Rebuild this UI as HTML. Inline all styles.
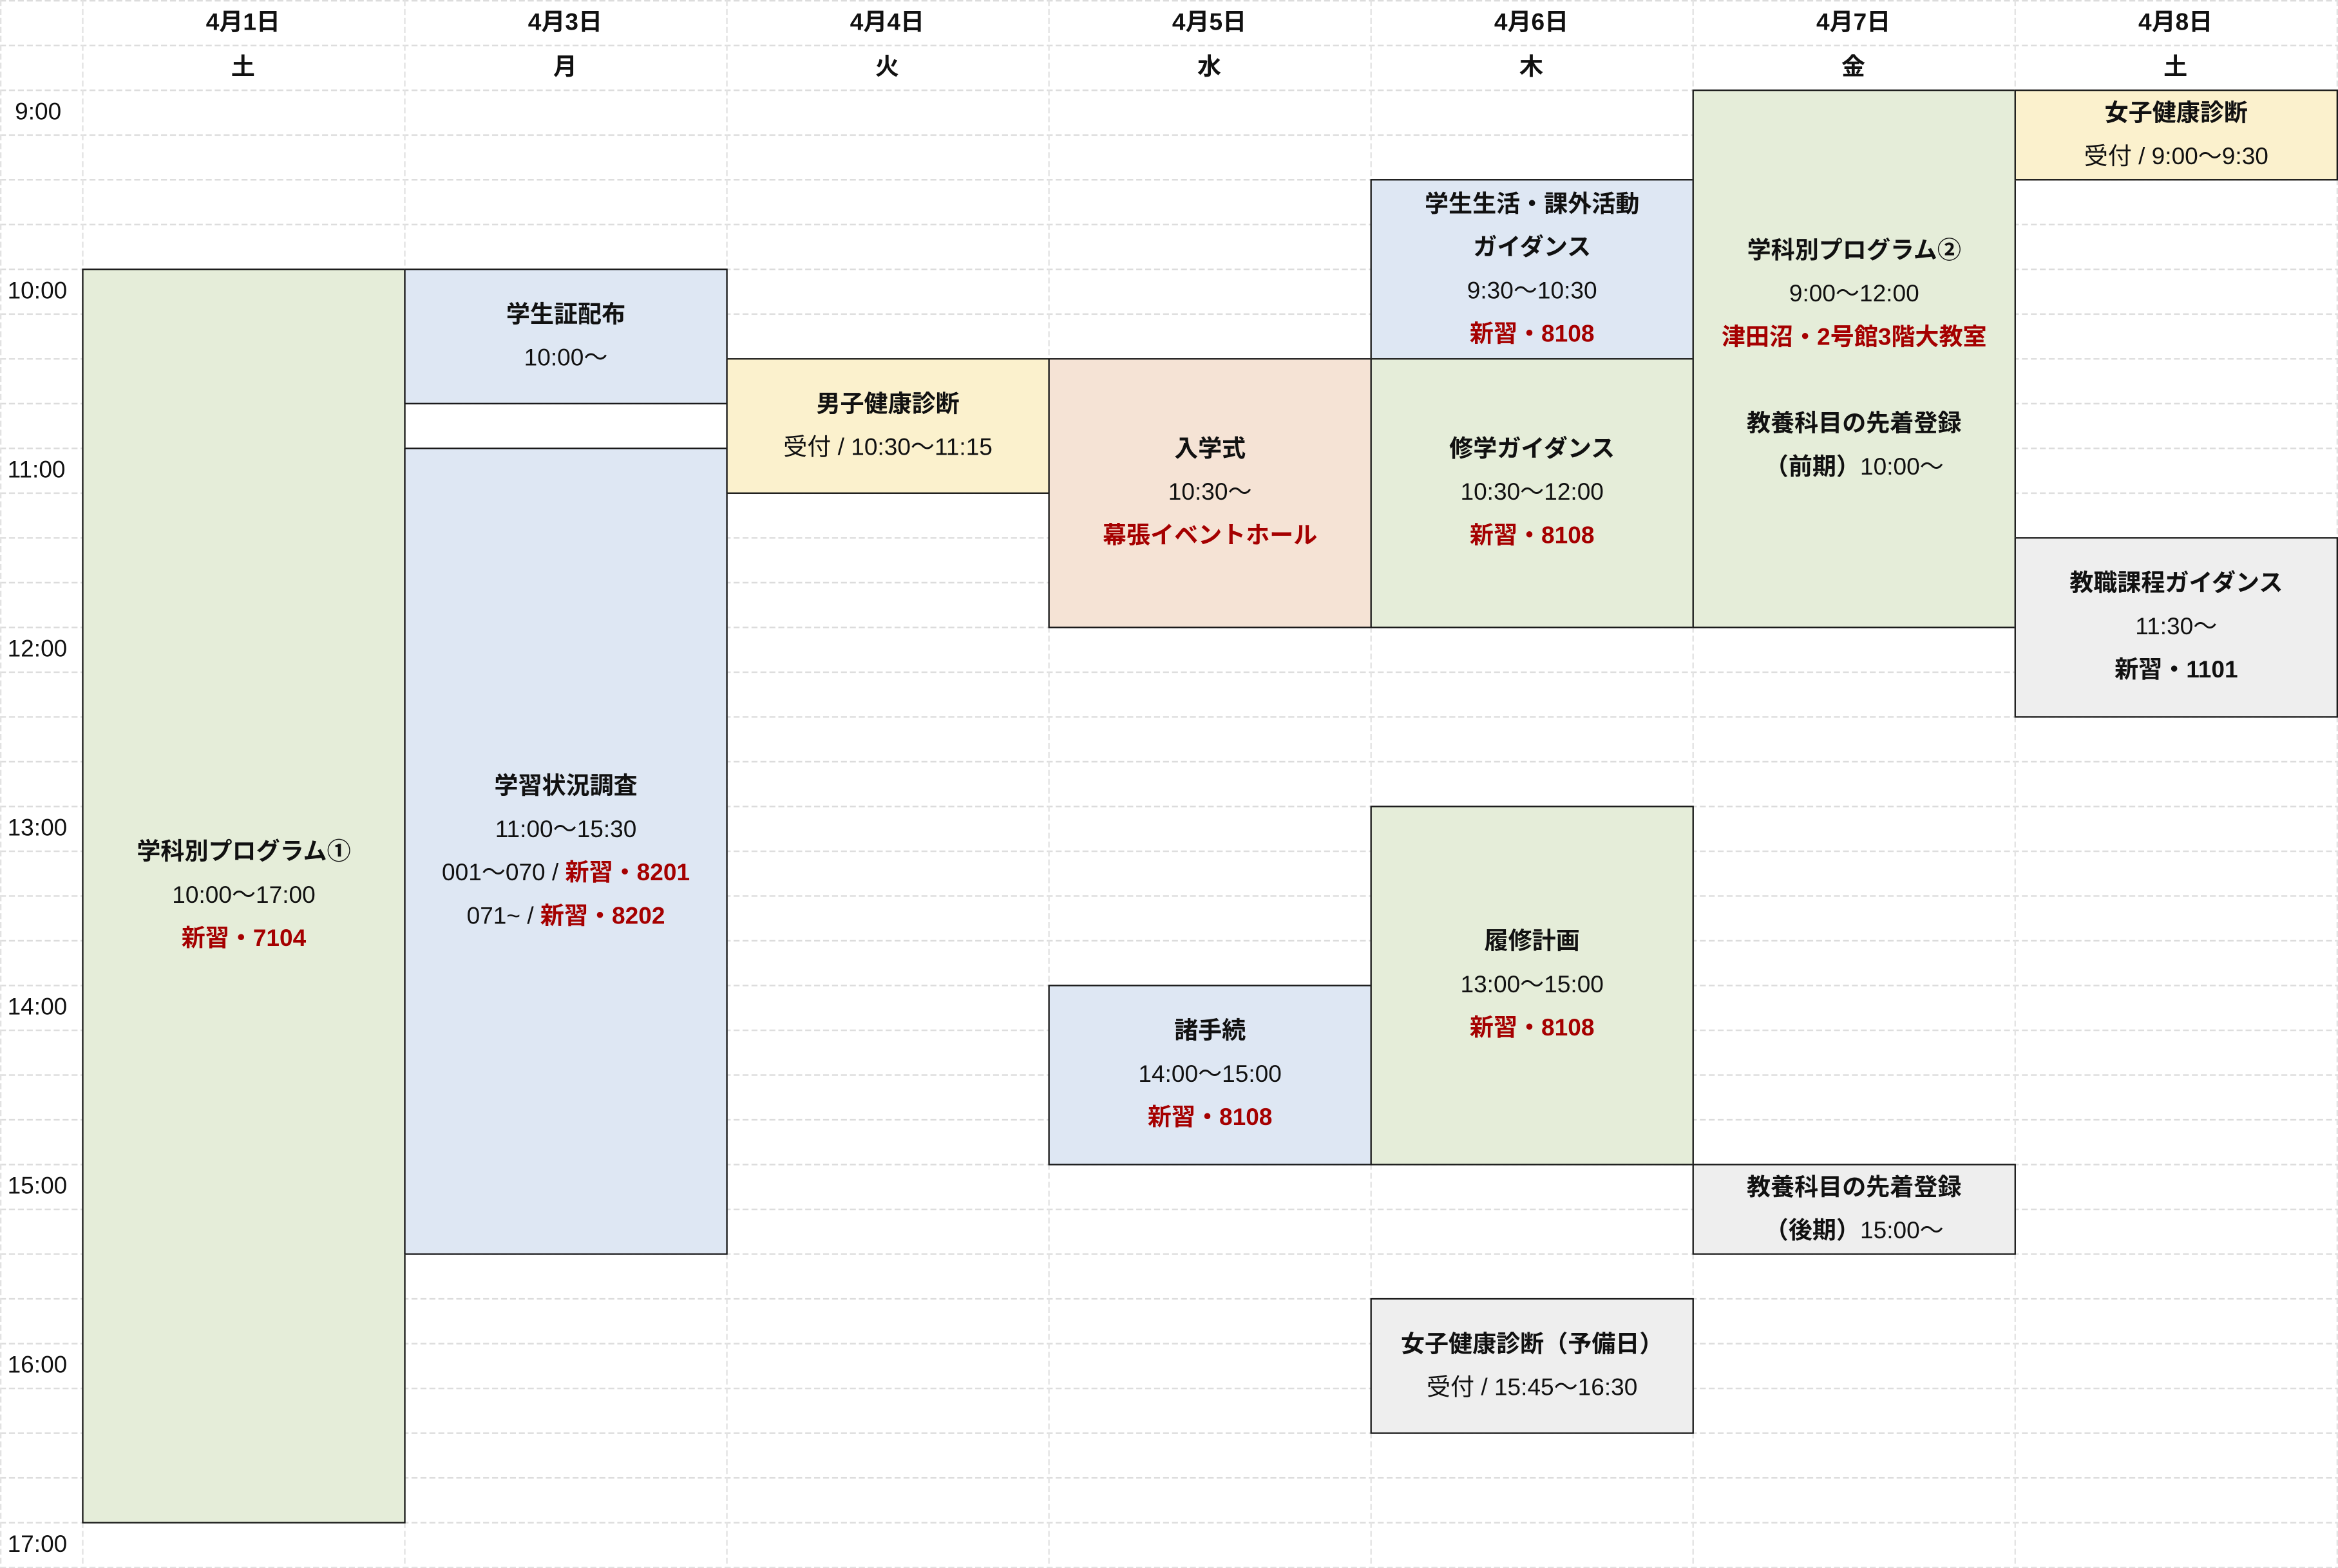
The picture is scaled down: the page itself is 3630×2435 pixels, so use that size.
<!DOCTYPE html>
<html><head><meta charset="utf-8"><style>
html,body{margin:0;padding:0;background:#fff;overflow:hidden}
#w{position:absolute;left:0;top:0;width:1568px;height:1051px;transform:scale(2.31505,2.3171);transform-origin:0 0;font-family:"Liberation Sans","Noto Sans CJK JP",sans-serif;color:#111}
.h{position:absolute;width:216px;text-align:center;font-weight:bold;font-size:16px;line-height:30px}
.t{position:absolute;left:10px;font-size:16px;line-height:30px}
.b{position:absolute;box-sizing:border-box;border:1px solid #1a1a1a;display:flex;flex-direction:column;justify-content:center;align-items:center;font-size:16px;line-height:29px;text-align:center;width:217px}
.b b{font-weight:bold}
.r{color:#a50000;font-weight:bold}
.g{background:#e5edd9}.u{background:#dee7f3}.y{background:#fbf1cd}.p{background:#f5e3d5}.k{background:#eeeeee}
</style></head><body><div id="w">
<svg width="1568" height="1051" style="position:absolute;left:0;top:0">
<defs><pattern id="hp" width="1568" height="30" patternUnits="userSpaceOnUse"><line x1="0" y1="0.5" x2="1568" y2="0.5" stroke="#dcdcdc" stroke-dasharray="4 2"/></pattern></defs>
<rect x="0" y="0" width="1568" height="1051" fill="url(#hp)"/>
<g stroke="#e2e2e2" stroke-dasharray="4 2">
<line x1="0.5" y1="0" x2="0.5" y2="1051"/><line x1="55.5" y1="0" x2="55.5" y2="1051"/><line x1="271.5" y1="0" x2="271.5" y2="1051"/><line x1="487.5" y1="0" x2="487.5" y2="1051"/><line x1="703.5" y1="0" x2="703.5" y2="1051"/><line x1="919.5" y1="0" x2="919.5" y2="1051"/><line x1="1135.5" y1="0" x2="1135.5" y2="1051"/><line x1="1351.5" y1="0" x2="1351.5" y2="1051"/><line x1="1567.5" y1="0" x2="1567.5" y2="1051"/>
<line x1="0" y1="1050.5" x2="1568" y2="1050.5"/>
</g></svg>
<div class="h" style="left:55px;top:1px">4月1日</div><div class="h" style="left:55px;top:31px">土</div>
<div class="h" style="left:271px;top:1px">4月3日</div><div class="h" style="left:271px;top:31px">月</div>
<div class="h" style="left:487px;top:1px">4月4日</div><div class="h" style="left:487px;top:31px">火</div>
<div class="h" style="left:703px;top:1px">4月5日</div><div class="h" style="left:703px;top:31px">水</div>
<div class="h" style="left:919px;top:1px">4月6日</div><div class="h" style="left:919px;top:31px">木</div>
<div class="h" style="left:1135px;top:1px">4月7日</div><div class="h" style="left:1135px;top:31px">金</div>
<div class="h" style="left:1351px;top:1px">4月8日</div><div class="h" style="left:1351px;top:31px">土</div>
<div class="t" style="top:61px">9:00</div><div class="t" style="top:181px;left:5px">10:00</div><div class="t" style="top:301px;left:5px">11:00</div><div class="t" style="top:421px;left:5px">12:00</div><div class="t" style="top:541px;left:5px">13:00</div><div class="t" style="top:661px;left:5px">14:00</div><div class="t" style="top:781px;left:5px">15:00</div><div class="t" style="top:901px;left:5px">16:00</div><div class="t" style="top:1021px;left:5px">17:00</div>

<div class="b g" style="left:55px;top:180px;height:841px"><b>学科別プログラム①</b><span>10:00〜17:00</span><span class="r">新習・7104</span></div>
<div class="b u" style="left:271px;top:180px;height:91px"><b>学生証配布</b><span>10:00〜</span></div>
<div class="b u" style="left:271px;top:300px;height:541px"><b>学習状況調査</b><span>11:00〜15:30</span><span>001〜070 / <span class="r">新習・8201</span></span><span>071~ / <span class="r">新習・8202</span></span></div>
<div class="b y" style="left:487px;top:240px;height:91px"><b>男子健康診断</b><span>受付 / 10:30〜11:15</span></div>
<div class="b p" style="left:703px;top:240px;height:181px"><b>入学式</b><span>10:30〜</span><span class="r">幕張イベントホール</span></div>
<div class="b u" style="left:703px;top:660px;height:121px"><b>諸手続</b><span>14:00〜15:00</span><span class="r">新習・8108</span></div>
<div class="b u" style="left:919px;top:120px;height:121px"><b>学生生活・課外活動</b><b>ガイダンス</b><span>9:30〜10:30</span><span class="r">新習・8108</span></div>
<div class="b g" style="left:919px;top:240px;height:181px"><b>修学ガイダンス</b><span>10:30〜12:00</span><span class="r">新習・8108</span></div>
<div class="b g" style="left:919px;top:540px;height:241px"><b>履修計画</b><span>13:00〜15:00</span><span class="r">新習・8108</span></div>
<div class="b k" style="left:919px;top:870px;height:91px"><b>女子健康診断（予備日）</b><span>受付 / 15:45〜16:30</span></div>
<div class="b g" style="left:1135px;top:60px;height:361px"><b>学科別プログラム②</b><span>9:00〜12:00</span><span class="r">津田沼・2号館3階大教室</span><span>&nbsp;</span><b>教養科目の先着登録</b><span><b>（前期）</b>10:00〜</span></div>
<div class="b k" style="left:1135px;top:780px;height:61px"><b>教養科目の先着登録</b><span><b>（後期）</b>15:00〜</span></div>
<div class="b y" style="left:1351px;top:60px;height:61px"><b>女子健康診断</b><span>受付 / 9:00〜9:30</span></div>
<div class="b k" style="left:1351px;top:360px;height:121px"><b>教職課程ガイダンス</b><span>11:30〜</span><b>新習・1101</b></div>
</div></body></html>
